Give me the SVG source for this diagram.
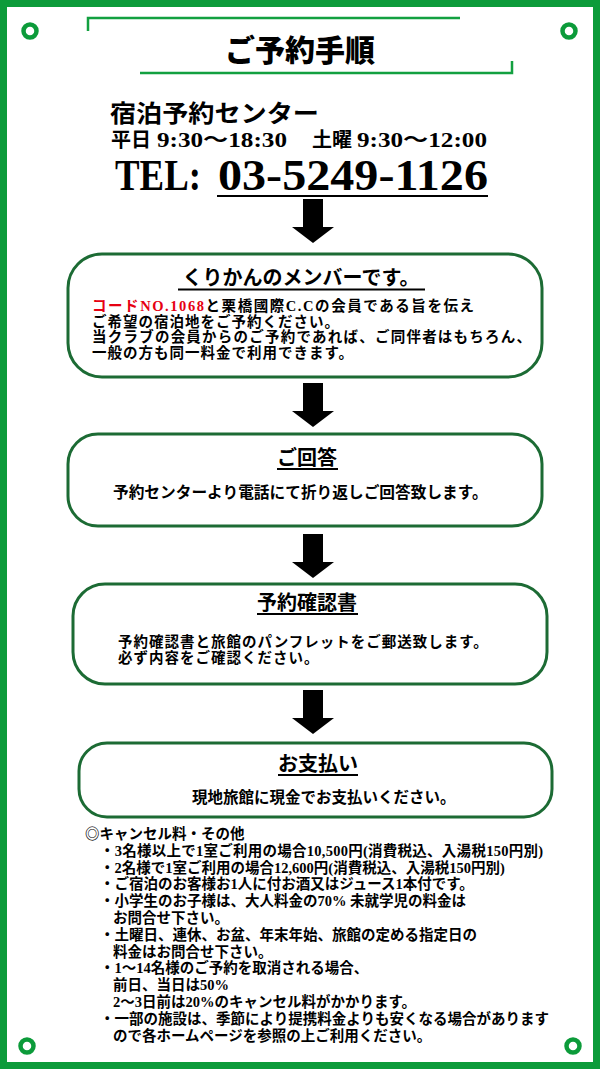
<svg xmlns="http://www.w3.org/2000/svg" width="600" height="1069" viewBox="0 0 600 1069">
<style>
.t{font-family:"Liberation Serif","Noto Sans CJK JP",serif;font-weight:bold;fill:#000}
.h{font-weight:900}
.b1{font-size:14.5px;letter-spacing:1px}
.box{fill:#fff;stroke:#1c6b34;stroke-width:3}
.frame{fill:#fff;stroke:#0c9b3a;stroke-width:7}
.ring{fill:#fff;stroke:#0c9b3a;stroke-width:4.5}
.br{fill:none;stroke:#13a040;stroke-width:2.5}
.ul{stroke:#000;stroke-width:2}
.arrow{fill:#000}
.red{fill:#e60012}
</style>
<g id="frame">
<rect class="frame" x="3.5" y="3.5" width="593" height="1062"/>
<circle class="ring" cx="30" cy="31" r="6.5"/>
<circle class="ring" cx="569" cy="31" r="6.5"/>
<circle class="ring" cx="27" cy="1046" r="6.5"/>
<circle class="ring" cx="573" cy="1046" r="6.5"/>
</g>
<g id="title">
<polyline class="br" points="88,31 88,18 460,18"/>
<polyline class="br" points="140,73 512,73 512,61"/>
<text class="t h" x="300" y="61" font-size="30" text-anchor="middle">ご予約手順</text>
</g>
<g id="center">
<text class="t" x="110" y="122" font-size="24" textLength="209" lengthAdjust="spacingAndGlyphs">宿泊予約センター</text>
<text class="t" y="147" font-size="20"><tspan x="111">平日</tspan><tspan x="157" textLength="130" lengthAdjust="spacingAndGlyphs">9:30〜18:30</tspan><tspan x="312">土曜</tspan><tspan x="357" textLength="130" lengthAdjust="spacingAndGlyphs">9:30〜12:00</tspan></text>
<text class="t" y="190" font-size="44"><tspan x="115" textLength="86" lengthAdjust="spacingAndGlyphs">TEL:</tspan><tspan x="218" textLength="270" lengthAdjust="spacingAndGlyphs">03-5249-1126</tspan></text>
<line class="ul" x1="217" y1="196" x2="488" y2="196" stroke-width="2.5"/>
</g>
<g id="connectors">
<polygon class="arrow" points="303,199 323,199 323,227 334,227 313,243 292,227 303,227"/>
<polygon class="arrow" points="303,383 323,383 323,411 334,411 313,427 292,411 303,411"/>
<polygon class="arrow" points="303,534 323,534 323,562 334,562 313,578 292,562 303,562"/>
<polygon class="arrow" points="303,690 323,690 323,718 334,718 313,734 292,718 303,718"/>
</g>
<g id="node1">
<rect class="box" x="68" y="254" width="474" height="123" rx="34"/>
<text class="t" x="301" y="285" font-size="20" text-anchor="middle">くりかんのメンバーです。</text>
<line class="ul" x1="178" y1="289.5" x2="425" y2="289.5"/>
<text class="t b1" x="92" y="311" textLength="383" lengthAdjust="spacing"><tspan class="red">コードNO.1068</tspan>と栗橋國際C.Cの会員である旨を伝え</text>
<text class="t b1" x="92" y="327">ご希望の宿泊地をご予約ください。</text>
<text class="t b1" x="92" y="342" textLength="440" lengthAdjust="spacing">当クラブの会員からのご予約であれば、ご同伴者はもちろん、</text>
<text class="t b1" x="92" y="358">一般の方も同一料金で利用できます。</text>
</g>
<g id="node2">
<rect class="box" x="68" y="434" width="474" height="92" rx="30"/>
<text class="t" x="307" y="465" font-size="20" text-anchor="middle">ご回答</text>
<line class="ul" x1="277" y1="469" x2="338" y2="469"/>
<text class="t" x="113" y="498" font-size="15.7">予約センターより電話にて折り返しご回答致します。</text>
</g>
<g id="node3">
<rect class="box" x="73" y="584" width="474" height="100" rx="32"/>
<text class="t" x="307" y="610" font-size="20" text-anchor="middle">予約確認書</text>
<line class="ul" x1="257" y1="614" x2="358" y2="614"/>
<text class="t b1" x="118" y="647">予約確認書と旅館のパンフレットをご郵送致します。</text>
<text class="t b1" x="118" y="663">必ず内容をご確認ください。</text>
</g>
<g id="node4">
<rect class="box" x="79" y="743" width="473" height="74" rx="28"/>
<text class="t" x="318" y="771" font-size="20" text-anchor="middle">お支払い</text>
<line class="ul" x1="278" y1="775" x2="358" y2="775"/>
<text class="t" x="192" y="803" font-size="15.5">現地旅館に現金でお支払いください。</text>
</g>
<g id="notes" font-size="14.5">
<text class="t" x="85" y="839">◎キャンセル料・その他</text>
<text class="t" x="100" y="856" textLength="443" lengthAdjust="spacing">・3名様以上で1室ご利用の場合10,500円(消費税込、入湯税150円別)</text>
<text class="t" x="100" y="872.6">・2名様で1室ご利用の場合12,600円(消費税込、入湯税150円別)</text>
<text class="t" x="100" y="889.4">・ご宿泊のお客様お1人に付お酒又はジュース1本付です。</text>
<text class="t" x="100" y="906.2">・小学生のお子様は、大人料金の70% 未就学児の料金は</text>
<text class="t" x="113" y="923">お問合せ下さい。</text>
<text class="t" x="100" y="939.8">・土曜日、連休、お盆、年末年始、旅館の定める指定日の</text>
<text class="t" x="113" y="956.6">料金はお問合せ下さい。</text>
<text class="t" x="100" y="973.4">・1〜14名様のご予約を取消される場合、</text>
<text class="t" x="113" y="990.2">前日、当日は50%</text>
<text class="t" x="113" y="1007">2〜3日前は20%のキャンセル料がかかります。</text>
<text class="t" x="100" y="1023.8">・一部の施設は、季節により提携料金よりも安くなる場合があります</text>
<text class="t" x="113" y="1040.6">ので各ホームページを参照の上ご利用ください。</text>
</g>
</svg>
